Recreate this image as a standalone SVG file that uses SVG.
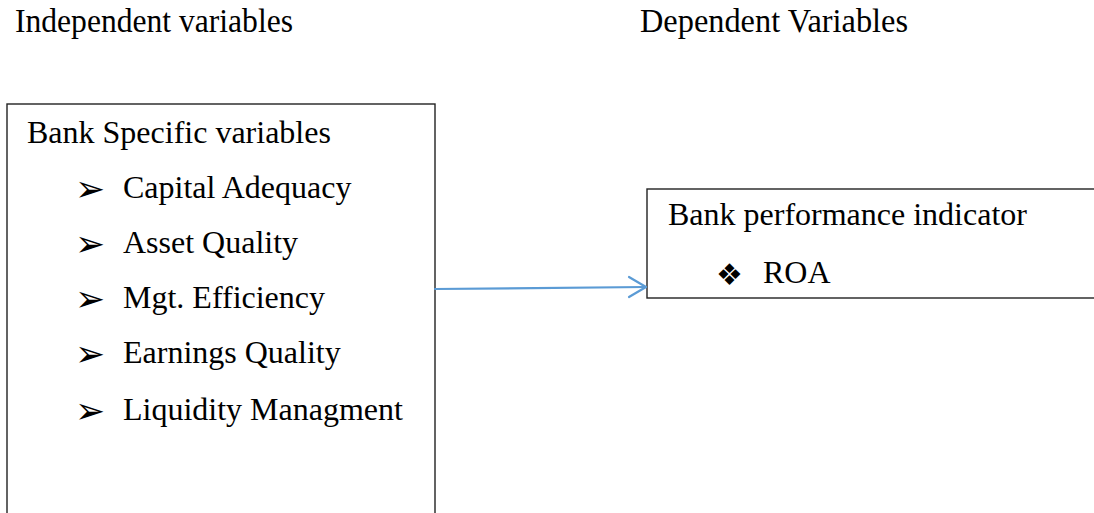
<svg xmlns="http://www.w3.org/2000/svg" width="1094" height="513" viewBox="0 0 1094 513">
<style>
.t{font-family:"Liberation Serif","Times New Roman",serif;font-size:32px;fill:#000}
.h{font-family:"Liberation Serif","Times New Roman",serif;font-size:33px;fill:#000}
.b{font-family:"DejaVu Sans",sans-serif;fill:#000}
.arr{font-size:36px}
.dia{font-size:30px}
.box{fill:#fff;stroke:#222;stroke-width:1.4}
.conn{stroke:#5B9BD5;stroke-width:2.2;fill:none;stroke-linecap:round;stroke-linejoin:round}
</style>
<rect width="1094" height="513" fill="#fff"/>
<g id="headers">
<text class="h" x="15" y="32" textLength="278" lengthAdjust="spacingAndGlyphs">Independent variables</text>
<text class="h" x="640" y="32" textLength="268" lengthAdjust="spacingAndGlyphs">Dependent Variables</text>
</g>
<g id="node-bank-specific">
<rect class="box" x="7" y="104" width="428" height="430"/>
<text class="t" x="27" y="143">Bank Specific variables</text>
<text class="b arr" x="75" y="201">➢</text><text class="t" x="123" y="198">Capital Adequacy</text>
<text class="b arr" x="75" y="256">➢</text><text class="t" x="123" y="253">Asset Quality</text>
<text class="b arr" x="75" y="311">➢</text><text class="t" x="123" y="308">Mgt. Efficiency</text>
<text class="b arr" x="75" y="366">➢</text><text class="t" x="123" y="363">Earnings Quality</text>
<text class="b arr" x="75" y="423">➢</text><text class="t" x="123" y="420">Liquidity Managment</text>
</g>
<g id="node-performance">
<rect class="box" x="647" y="189" width="460" height="109"/>
<text class="t" x="668" y="225">Bank performance indicator</text>
<text class="b dia" x="716" y="285">❖</text><text class="t" x="763" y="283">ROA</text>
</g>
<g id="connectors">
<path class="conn" d="M435 289 L646 287"/>
<path class="conn" d="M629 277 L646 287 L629 297"/>
</g>
</svg>
